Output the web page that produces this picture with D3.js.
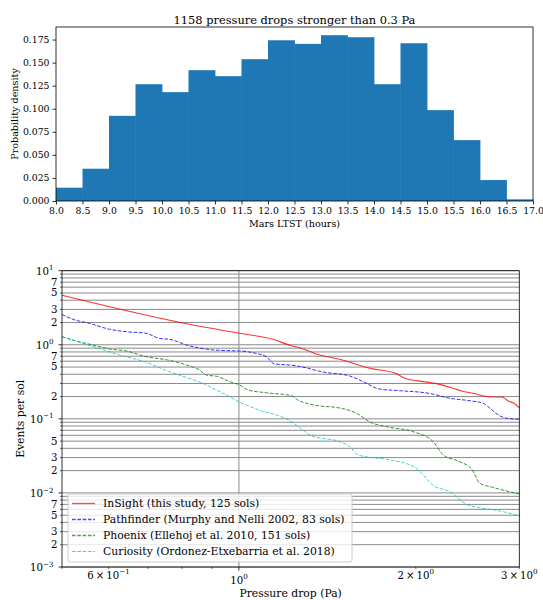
<!DOCTYPE html>
<html>
<head>
<meta charset="utf-8">
<script src="https://cdn.jsdelivr.net/npm/d3@7"></script>
<style>
  body { margin: 0; background: #fff; }
  text { font-family: "DejaVu Serif", serif; fill: #000; }
</style>
</head>
<body>
<svg id="fig" width="543" height="600"></svg>
<script>
// ---- histogram data (Mars LTST, 0.5 h bins)
const ltstBins = [8.0, 8.5, 9.0, 9.5, 10.0, 10.5, 11.0, 11.5, 12.0, 12.5, 13.0, 13.5, 14.0, 14.5, 15.0, 15.5, 16.0, 16.5];
const ltstDensity = [0.0144, 0.035, 0.0923, 0.1266, 0.118, 0.1418, 0.1353, 0.1537, 0.1742, 0.1703, 0.1797, 0.1775, 0.1266, 0.171, 0.0985, 0.066, 0.0227, 0.0018];
const ltstTicks = [8.0, 8.5, 9.0, 9.5, 10.0, 10.5, 11.0, 11.5, 12.0, 12.5, 13.0, 13.5, 14.0, 14.5, 15.0, 15.5, 16.0, 16.5, 17.0];
const densityTicks = [0, 0.025, 0.05, 0.075, 0.1, 0.125, 0.15, 0.175];

// ---- cumulative event rates
const insightDrop = [0.5, 0.835, 1.003, 1.143, 1.228, 1.269, 1.372, 1.484, 1.670, 1.854, 1.916, 2.058, 2.169, 2.315, 2.393, 2.504, 2.674, 2.800, 2.873, 2.938, 3.0];
const insightRate = [4.66, 1.85, 1.43, 1.186, 0.972, 0.914, 0.729, 0.637, 0.482, 0.407, 0.353, 0.318, 0.299, 0.259, 0.238, 0.2216, 0.1975, 0.1975, 0.1744, 0.1624, 0.1403];

const pathfinderDrop = [0.5, 0.5214, 0.5566, 0.602, 0.643, 0.695, 0.733, 0.762, 0.814, 0.880, 0.952, 1.003, 1.056, 1.113, 1.150, 1.228, 1.269, 1.390, 1.544, 1.627, 1.736, 1.878, 2.113, 2.286, 2.473, 2.604, 2.674, 2.781, 2.855, 3.0];
const pathfinderRate = [2.56, 2.21, 1.95, 1.62, 1.50, 1.43, 1.216, 1.186, 0.994, 0.872, 0.833, 0.825, 0.782, 0.691, 0.551, 0.530, 0.510, 0.429, 0.379, 0.318, 0.252, 0.240, 0.220, 0.1897, 0.1754, 0.1624, 0.139, 0.1094, 0.1019, 0.0988];

const phoenixDrop = [0.5, 0.5214, 0.564, 0.602, 0.643, 0.695, 0.756, 0.814, 0.857, 0.880, 0.920, 0.964, 1.003, 1.036, 1.113, 1.228, 1.259, 1.303, 1.372, 1.466, 1.585, 1.670, 1.792, 1.979, 2.141, 2.227, 2.377, 2.491, 2.571, 2.705, 3.0];
const phoenixRate = [1.286, 1.161, 0.994, 0.878, 0.825, 0.691, 0.623, 0.534, 0.457, 0.391, 0.373, 0.318, 0.287, 0.2455, 0.225, 0.2056, 0.180, 0.1624, 0.1493, 0.1425, 0.119, 0.0908, 0.0777, 0.0672, 0.0492, 0.0326, 0.0264, 0.0208, 0.0135, 0.0119, 0.00967];

const curiosityDrop = [0.5, 0.542, 0.583, 0.626, 0.691, 0.756, 0.814, 0.868, 0.915, 0.964, 1.003, 1.029, 1.093, 1.158, 1.228, 1.285, 1.330, 1.484, 1.544, 1.593, 1.806, 1.979, 2.032, 2.141, 2.286, 2.440, 2.551, 2.781, 3.0];
const curiosityRate = [1.286, 1.048, 0.872, 0.729, 0.591, 0.443, 0.362, 0.302, 0.2455, 0.1993, 0.1665, 0.154, 0.1278, 0.1129, 0.0917, 0.0709, 0.0588, 0.0492, 0.0424, 0.0326, 0.0279, 0.0228, 0.0194, 0.01262, 0.0104, 0.0070, 0.00637, 0.00571, 0.00489];

const seriesLabels = [
  "InSight (this study, 125 sols)",
  "Pathfinder (Murphy and Nelli 2002, 83 sols)",
  "Phoenix (Ellehoj et al. 2010, 151 sols)",
  "Curiosity (Ordonez-Etxebarria et al. 2018)"
];

// ---- log axis ticks
const rateMajor = [10, 1, 0.1, 0.01, 0.001];
const rateMajorExp = ["1", "0", "\u22121", "\u22122", "\u22123"];
const rateMinor = [9, 8, 7, 6, 5, 4, 3, 2, 0.9, 0.8, 0.7, 0.6, 0.5, 0.4, 0.3, 0.2,
  0.09, 0.08, 0.07, 0.06, 0.05, 0.04, 0.03, 0.02, 0.009, 0.008, 0.007, 0.006, 0.005, 0.004, 0.003, 0.002];
const rateMinorLabelled = [7, 5, 3, 2, 0.7, 0.5, 0.2, 0.05, 0.03, 0.02, 0.007, 0.005, 0.003, 0.002];
const rateMinorText = ["7", "5", "3", "2", "7", "5", "2", "5", "3", "2", "7", "5", "3", "2"];
const dropMinor = [0.5, 0.6, 0.7, 0.8, 0.9, 2, 3];
const dropLabelled = [0.6, 1, 2, 3];
const dropLabelBase = ["6\u2009\u00d7\u200910", "10", "2\u2009\u00d7\u200910", "3\u2009\u00d7\u200910"];
const dropLabelExp = ["\u22121", "0", "0", "0"];

const svg = d3.select("#fig");
const topTickFont = 9.3;
const logTickFont = 10.2;

// ================= top: histogram =================
const H = { left: 56, right: 533, top: 27, bottom: 201 };
const hx = d3.scaleLinear().domain([8, 17]).range([H.left, H.right]);
const hy = d3.scaleLinear().domain([0, 0.1886]).range([H.bottom, H.top]);
const binWidth = 0.5;

const hist = svg.append("g");
hist.selectAll("rect.bar").data(ltstDensity).join("rect")
  .attr("class", "bar")
  .attr("x", (d, i) => hx(ltstBins[i]))
  .attr("width", (d, i) => hx(ltstBins[i] + binWidth) - hx(ltstBins[i]) + 0.4)
  .attr("y", d => hy(d))
  .attr("height", d => hy(0) - hy(d))
  .attr("fill", "#1f77b4");

hist.append("rect")
  .attr("x", H.left).attr("y", H.top)
  .attr("width", H.right - H.left).attr("height", H.bottom - H.top)
  .attr("fill", "none").attr("stroke", "#000").attr("stroke-width", 0.8);

const hxAxis = hist.append("g").attr("transform", `translate(0,${H.bottom})`)
  .call(d3.axisBottom(hx).tickValues(ltstTicks).tickFormat(d3.format(".1f"))
    .tickSize(3.5).tickSizeOuter(0).tickPadding(3));
const hyAxis = hist.append("g").attr("transform", `translate(${H.left},0)`)
  .call(d3.axisLeft(hy).tickValues(densityTicks).tickFormat(d3.format(".3f"))
    .tickSize(3.5).tickSizeOuter(0).tickPadding(3));
[hxAxis, hyAxis].forEach(a => {
  a.attr("font-family", null).attr("font-size", null);
  a.select(".domain").remove();
  a.selectAll("line").attr("stroke", "#000").attr("stroke-width", 0.8);
  a.selectAll("text").style("font-size", topTickFont + "px");
});

svg.append("text").attr("x", (H.left + H.right) / 2).attr("y", 23.5)
  .attr("text-anchor", "middle").style("font-size", "11.4px")
  .text("1158 pressure drops stronger than 0.3 Pa");
svg.append("text").attr("x", (H.left + H.right) / 2).attr("y", 226.5)
  .attr("text-anchor", "middle").style("font-size", "9.6px")
  .text("Mars LTST (hours)");
svg.append("text").attr("transform", `translate(17.5,${(H.top + H.bottom) / 2}) rotate(-90)`)
  .attr("text-anchor", "middle").style("font-size", "9.6px")
  .text("Probability density");

// ================= bottom: log-log rates =================
const L = { left: 62, right: 519.3, top: 270.7, bottom: 567 };
const lx = d3.scaleLog().domain([0.5, 3]).range([L.left, L.right]);
const ly = d3.scaleLog().domain([0.001, 10]).range([L.bottom, L.top]);

const rates = svg.append("g");

// grid
rates.selectAll("line.ygrid").data(rateMajor.concat(rateMinor)).join("line")
  .attr("class", "ygrid")
  .attr("x1", L.left).attr("x2", L.right)
  .attr("y1", d => ly(d)).attr("y2", d => ly(d))
  .attr("stroke", "#8a8a8a").attr("stroke-width", 1);
rates.append("line")
  .attr("x1", lx(1)).attr("x2", lx(1)).attr("y1", L.top).attr("y2", L.bottom)
  .attr("stroke", "#8a8a8a").attr("stroke-width", 1);

// series
const series = [
  { drop: insightDrop, rate: insightRate, color: "#ff0000", dash: null, width: 1.1 },
  { drop: pathfinderDrop, rate: pathfinderRate, color: "#0000ff", dash: "3.7,1.6", width: 1.0 },
  { drop: phoenixDrop, rate: phoenixRate, color: "#008000", dash: "3.7,1.6", width: 1.0 },
  { drop: curiosityDrop, rate: curiosityRate, color: "#00bfbf", dash: "3.7,1.6", width: 0.9 }
];
const line = d3.line()
  .x(d => lx(d[0]))
  .y(d => ly(d[1]))
  .curve(d3.curveMonotoneX);

rates.selectAll("path.series").data(series).join("path")
  .attr("class", "series")
  .attr("d", s => line(d3.zip(s.drop, s.rate)))
  .attr("fill", "none")
  .attr("stroke", s => s.color)
  .attr("stroke-opacity", 0.8)
  .attr("stroke-width", s => s.width)
  .attr("stroke-dasharray", s => s.dash);

// y ticks
rates.selectAll("line.ymaj").data(rateMajor).join("line")
  .attr("x1", L.left - 3.5).attr("x2", L.left)
  .attr("y1", d => ly(d)).attr("y2", d => ly(d))
  .attr("stroke", "#000").attr("stroke-width", 0.8);
rates.selectAll("line.ymin").data(rateMinor).join("line")
  .attr("x1", L.left - 2).attr("x2", L.left)
  .attr("y1", d => ly(d)).attr("y2", d => ly(d))
  .attr("stroke", "#000").attr("stroke-width", 0.6);

const yMajLab = rates.selectAll("text.ymaj").data(rateMajor).join("text")
  .attr("x", L.left - 8.5).attr("y", d => ly(d) + 4.2)
  .attr("text-anchor", "end").style("font-size", logTickFont + "px");
yMajLab.append("tspan").text("10");
yMajLab.append("tspan").attr("dy", -4.6).style("font-size", "7.1px")
  .text((d, i) => rateMajorExp[i]);

rates.selectAll("text.ymin").data(rateMinorLabelled).join("text")
  .attr("x", L.left - 4.5).attr("y", d => ly(d) + 3.4)
  .attr("text-anchor", "end").style("font-size", logTickFont + "px")
  .text((d, i) => rateMinorText[i]);

// x ticks
rates.append("line")
  .attr("x1", lx(1)).attr("x2", lx(1)).attr("y1", L.bottom).attr("y2", L.bottom + 3.5)
  .attr("stroke", "#000").attr("stroke-width", 0.8);
rates.selectAll("line.xmin").data(dropMinor).join("line")
  .attr("x1", d => lx(d)).attr("x2", d => lx(d))
  .attr("y1", L.bottom).attr("y2", L.bottom + 2)
  .attr("stroke", "#000").attr("stroke-width", 0.6);

const xLab = rates.selectAll("text.xlab").data(dropLabelled).join("text")
  .attr("x", d => lx(d)).attr("y", d => d === 1 ? 584 : 578.5)
  .attr("text-anchor", "middle").style("font-size", logTickFont + "px");
xLab.append("tspan").text((d, i) => dropLabelBase[i]);
xLab.append("tspan").attr("dy", -4.6).style("font-size", "7.1px")
  .text((d, i) => dropLabelExp[i]);

// frame
rates.append("rect")
  .attr("x", L.left).attr("y", L.top)
  .attr("width", L.right - L.left).attr("height", L.bottom - L.top)
  .attr("fill", "none").attr("stroke", "#000").attr("stroke-width", 0.8);

svg.append("text").attr("x", (L.left + L.right) / 2).attr("y", 596.5)
  .attr("text-anchor", "middle").style("font-size", "10.8px")
  .text("Pressure drop (Pa)");
svg.append("text").attr("transform", `translate(24,${(L.top + L.bottom) / 2}) rotate(-90)`)
  .attr("text-anchor", "middle").style("font-size", "10.8px")
  .text("Events per sol");

// legend
const leg = rates.append("g").attr("transform", "translate(68,494)");
leg.append("rect")
  .attr("width", 284).attr("height", 68).attr("rx", 2)
  .attr("fill", "#fff").attr("fill-opacity", 0.8)
  .attr("stroke", "#cccccc").attr("stroke-width", 1);
const items = leg.selectAll("g.item").data(series).join("g")
  .attr("transform", (d, i) => `translate(0,${9.5 + i * 16})`);
items.append("line")
  .attr("x1", 4).attr("x2", 27).attr("y1", 0).attr("y2", 0)
  .attr("stroke", s => s.color).attr("stroke-opacity", 0.7)
  .attr("stroke-width", s => s.width + 0.3)
  .attr("stroke-dasharray", s => s.dash);
items.append("text")
  .attr("x", 35).attr("y", 3.8).style("font-size", "10.8px")
  .text((d, i) => seriesLabels[i]);
</script>
</body>
</html>
